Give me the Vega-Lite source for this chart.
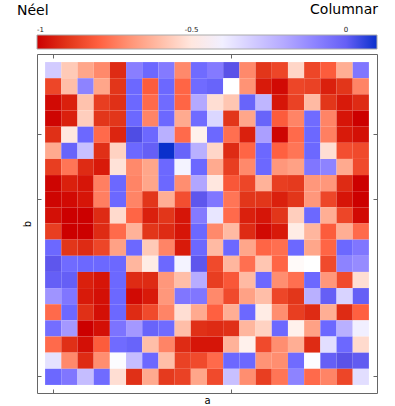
{
  "$schema": "https://vega.github.io/schema/vega-lite/v6.json",
  "width": 340,
  "height": 339,
  "autosize": {"type": "none"},
  "padding": {"left": 37, "top": 54, "right": 18, "bottom": 13},
  "config": {
    "font": "DejaVu Sans",
    "view": {"stroke": "#666", "strokeWidth": 1}
  },
  "title": {
    "text": "Néel",
    "anchor": "start",
    "frame": "group",
    "dx": -20,
    "offset": -15,
    "fontSize": 14,
    "fontWeight": "normal",
    "color": "#000"
  },
  "data": {
    "values": [
      {"a":1,"b":20,"v":-0.3},{"a":2,"b":20,"v":-0.57},{"a":3,"b":20,"v":-0.66},{"a":4,"b":20,"v":-0.72},{"a":5,"b":20,"v":-0.92},{"a":6,"b":20,"v":-0.09},{"a":7,"b":20,"v":-0.02},{"a":8,"b":20,"v":-0.08},{"a":9,"b":20,"v":-0.72},{"a":10,"b":20,"v":-0.03},{"a":11,"b":20,"v":-0.08},{"a":12,"b":20,"v":0.03},{"a":13,"b":20,"v":-0.72},{"a":14,"b":20,"v":-0.9},{"a":15,"b":20,"v":-0.86},{"a":16,"b":20,"v":-0.54},{"a":17,"b":20,"v":-0.86},{"a":18,"b":20,"v":-0.81},{"a":19,"b":20,"v":-0.64},{"a":20,"b":20,"v":-0.07},
      {"a":1,"b":19,"v":-0.86},{"a":2,"b":19,"v":-0.6},{"a":3,"b":19,"v":-0.1},{"a":4,"b":19,"v":-0.66},{"a":5,"b":19,"v":-0.9},{"a":6,"b":19,"v":-0.02},{"a":7,"b":19,"v":-0.81},{"a":8,"b":19,"v":-0.02},{"a":9,"b":19,"v":-0.79},{"a":10,"b":19,"v":-0.03},{"a":11,"b":19,"v":-0.01},{"a":12,"b":19,"v":-0.45},{"a":13,"b":19,"v":-0.7},{"a":14,"b":19,"v":-0.95},{"a":15,"b":19,"v":-0.98},{"a":16,"b":19,"v":-0.86},{"a":17,"b":19,"v":-0.87},{"a":18,"b":19,"v":-0.94},{"a":19,"b":19,"v":-0.9},{"a":20,"b":19,"v":-0.73},
      {"a":1,"b":18,"v":-0.98},{"a":2,"b":18,"v":-0.94},{"a":3,"b":18,"v":-0.59},{"a":4,"b":18,"v":-0.88},{"a":5,"b":18,"v":-0.91},{"a":6,"b":18,"v":-0.02},{"a":7,"b":18,"v":-0.78},{"a":8,"b":18,"v":-0.03},{"a":9,"b":18,"v":-0.79},{"a":10,"b":18,"v":-0.2},{"a":11,"b":18,"v":-0.52},{"a":12,"b":18,"v":-0.58},{"a":13,"b":18,"v":-0.01},{"a":14,"b":18,"v":-0.24},{"a":15,"b":18,"v":-0.96},{"a":16,"b":18,"v":-0.87},{"a":17,"b":18,"v":-0.61},{"a":18,"b":18,"v":-0.9},{"a":19,"b":18,"v":-0.95},{"a":20,"b":18,"v":-0.92},
      {"a":1,"b":17,"v":-0.99},{"a":2,"b":17,"v":-0.94},{"a":3,"b":17,"v":-0.56},{"a":4,"b":17,"v":-0.9},{"a":5,"b":17,"v":-0.9},{"a":6,"b":17,"v":-0.02},{"a":7,"b":17,"v":-0.73},{"a":8,"b":17,"v":-0.02},{"a":9,"b":17,"v":-0.65},{"a":10,"b":17,"v":-0.03},{"a":11,"b":17,"v":-0.33},{"a":12,"b":17,"v":-0.9},{"a":13,"b":17,"v":-0.66},{"a":14,"b":17,"v":-0.01},{"a":15,"b":17,"v":-0.81},{"a":16,"b":17,"v":-0.73},{"a":17,"b":17,"v":-0.03},{"a":18,"b":17,"v":-0.73},{"a":19,"b":17,"v":-0.96},{"a":20,"b":17,"v":-1.0},
      {"a":1,"b":16,"v":-0.91},{"a":2,"b":16,"v":-0.5},{"a":3,"b":16,"v":-0.02},{"a":4,"b":16,"v":-0.78},{"a":5,"b":16,"v":-0.93},{"a":6,"b":16,"v":0.04},{"a":7,"b":16,"v":-0.02},{"a":8,"b":16,"v":-0.22},{"a":9,"b":16,"v":-0.78},{"a":10,"b":16,"v":-0.48},{"a":11,"b":16,"v":-0.02},{"a":12,"b":16,"v":-0.77},{"a":13,"b":16,"v":-0.94},{"a":14,"b":16,"v":-0.17},{"a":15,"b":16,"v":-0.99},{"a":16,"b":16,"v":-0.78},{"a":17,"b":16,"v":-0.02},{"a":18,"b":16,"v":-0.74},{"a":19,"b":16,"v":-0.95},{"a":20,"b":16,"v":-0.97},
      {"a":1,"b":15,"v":-0.65},{"a":2,"b":15,"v":-0.01},{"a":3,"b":15,"v":-0.27},{"a":4,"b":15,"v":-0.91},{"a":5,"b":15,"v":-0.55},{"a":6,"b":15,"v":-0.02},{"a":7,"b":15,"v":0.0},{"a":8,"b":15,"v":0.1},{"a":9,"b":15,"v":-0.01},{"a":10,"b":15,"v":-0.22},{"a":11,"b":15,"v":-0.54},{"a":12,"b":15,"v":-0.92},{"a":13,"b":15,"v":-0.79},{"a":14,"b":15,"v":-0.02},{"a":15,"b":15,"v":-0.8},{"a":16,"b":15,"v":-0.76},{"a":17,"b":15,"v":-0.02},{"a":18,"b":15,"v":-0.52},{"a":19,"b":15,"v":-0.84},{"a":20,"b":15,"v":-0.85},
      {"a":1,"b":14,"v":-0.88},{"a":2,"b":14,"v":-0.76},{"a":3,"b":14,"v":-0.92},{"a":4,"b":14,"v":-0.95},{"a":5,"b":14,"v":-0.51},{"a":6,"b":14,"v":-0.72},{"a":7,"b":14,"v":-0.66},{"a":8,"b":14,"v":-0.02},{"a":9,"b":14,"v":-0.41},{"a":10,"b":14,"v":-0.02},{"a":11,"b":14,"v":-0.65},{"a":12,"b":14,"v":-0.88},{"a":13,"b":14,"v":-0.72},{"a":14,"b":14,"v":-0.02},{"a":15,"b":14,"v":-0.69},{"a":16,"b":14,"v":-0.67},{"a":17,"b":14,"v":-0.07},{"a":18,"b":14,"v":-0.1},{"a":19,"b":14,"v":-0.65},{"a":20,"b":14,"v":-0.85},
      {"a":1,"b":13,"v":-0.99},{"a":2,"b":13,"v":-0.94},{"a":3,"b":13,"v":-0.96},{"a":4,"b":13,"v":-0.74},{"a":5,"b":13,"v":-0.02},{"a":6,"b":13,"v":-0.73},{"a":7,"b":13,"v":-0.66},{"a":8,"b":13,"v":-0.02},{"a":9,"b":13,"v":-0.71},{"a":10,"b":13,"v":-0.19},{"a":11,"b":13,"v":-0.5},{"a":12,"b":13,"v":-0.82},{"a":13,"b":13,"v":-0.86},{"a":14,"b":13,"v":-0.63},{"a":15,"b":13,"v":-0.88},{"a":16,"b":13,"v":-0.89},{"a":17,"b":13,"v":-0.69},{"a":18,"b":13,"v":-0.69},{"a":19,"b":13,"v":-0.92},{"a":20,"b":13,"v":-1.0},
      {"a":1,"b":12,"v":-0.99},{"a":2,"b":12,"v":-0.98},{"a":3,"b":12,"v":-0.96},{"a":4,"b":12,"v":-0.74},{"a":5,"b":12,"v":-0.02},{"a":6,"b":12,"v":-0.73},{"a":7,"b":12,"v":-0.9},{"a":8,"b":12,"v":-0.64},{"a":9,"b":12,"v":-0.84},{"a":10,"b":12,"v":0.02},{"a":11,"b":12,"v":-0.07},{"a":12,"b":12,"v":-0.76},{"a":13,"b":12,"v":-0.9},{"a":14,"b":12,"v":-0.9},{"a":15,"b":12,"v":-0.94},{"a":16,"b":12,"v":-0.9},{"a":17,"b":12,"v":-0.69},{"a":18,"b":12,"v":-0.86},{"a":19,"b":12,"v":-0.96},{"a":20,"b":12,"v":-1.0},
      {"a":1,"b":11,"v":-0.97},{"a":2,"b":11,"v":-1.0},{"a":3,"b":11,"v":-1.0},{"a":4,"b":11,"v":-0.92},{"a":5,"b":11,"v":-0.53},{"a":6,"b":11,"v":-0.79},{"a":7,"b":11,"v":-0.94},{"a":8,"b":11,"v":-0.9},{"a":9,"b":11,"v":-0.96},{"a":10,"b":11,"v":-0.08},{"a":11,"b":11,"v":-0.37},{"a":12,"b":11,"v":-0.78},{"a":13,"b":11,"v":-0.94},{"a":14,"b":11,"v":-0.96},{"a":15,"b":11,"v":-0.9},{"a":16,"b":11,"v":-0.56},{"a":17,"b":11,"v":-0.02},{"a":18,"b":11,"v":-0.64},{"a":19,"b":11,"v":-0.86},{"a":20,"b":11,"v":-0.98},
      {"a":1,"b":10,"v":-0.88},{"a":2,"b":10,"v":-1.0},{"a":3,"b":10,"v":-1.0},{"a":4,"b":10,"v":-0.92},{"a":5,"b":10,"v":-0.78},{"a":6,"b":10,"v":-0.63},{"a":7,"b":10,"v":-0.9},{"a":8,"b":10,"v":-0.92},{"a":9,"b":10,"v":-0.96},{"a":10,"b":10,"v":-0.02},{"a":11,"b":10,"v":-0.72},{"a":12,"b":10,"v":-0.61},{"a":13,"b":10,"v":-0.92},{"a":14,"b":10,"v":-0.98},{"a":15,"b":10,"v":-0.95},{"a":16,"b":10,"v":-0.49},{"a":17,"b":10,"v":-0.62},{"a":18,"b":10,"v":-0.81},{"a":19,"b":10,"v":-0.64},{"a":20,"b":10,"v":-0.78},
      {"a":1,"b":9,"v":-0.02},{"a":2,"b":9,"v":-0.9},{"a":3,"b":9,"v":-0.92},{"a":4,"b":9,"v":-0.86},{"a":5,"b":9,"v":-0.67},{"a":6,"b":9,"v":-0.02},{"a":7,"b":9,"v":-0.57},{"a":8,"b":9,"v":-0.73},{"a":9,"b":9,"v":-0.95},{"a":10,"b":9,"v":-0.02},{"a":11,"b":9,"v":-0.61},{"a":12,"b":9,"v":-0.02},{"a":13,"b":9,"v":-0.66},{"a":14,"b":9,"v":-0.79},{"a":15,"b":9,"v":-0.77},{"a":16,"b":9,"v":-0.02},{"a":17,"b":9,"v":-0.66},{"a":18,"b":9,"v":-0.79},{"a":19,"b":9,"v":-0.02},{"a":20,"b":9,"v":-0.07},
      {"a":1,"b":8,"v":0.02},{"a":2,"b":8,"v":-0.03},{"a":3,"b":8,"v":-0.02},{"a":4,"b":8,"v":-0.02},{"a":5,"b":8,"v":-0.02},{"a":6,"b":8,"v":-0.62},{"a":7,"b":8,"v":-0.49},{"a":8,"b":8,"v":-0.02},{"a":9,"b":8,"v":-0.41},{"a":10,"b":8,"v":0.02},{"a":11,"b":8,"v":-0.85},{"a":12,"b":8,"v":-0.62},{"a":13,"b":8,"v":-0.77},{"a":14,"b":8,"v":-0.58},{"a":15,"b":8,"v":-0.79},{"a":16,"b":8,"v":-0.46},{"a":17,"b":8,"v":-0.45},{"a":18,"b":8,"v":-0.85},{"a":19,"b":8,"v":-0.1},{"a":20,"b":8,"v":-0.12},
      {"a":1,"b":7,"v":0.0},{"a":2,"b":7,"v":0.0},{"a":3,"b":7,"v":-0.94},{"a":4,"b":7,"v":-0.96},{"a":5,"b":7,"v":-0.02},{"a":6,"b":7,"v":-0.92},{"a":7,"b":7,"v":-0.92},{"a":8,"b":7,"v":-0.69},{"a":9,"b":7,"v":-0.6},{"a":10,"b":7,"v":-0.21},{"a":11,"b":7,"v":-0.88},{"a":12,"b":7,"v":-0.82},{"a":13,"b":7,"v":-0.61},{"a":14,"b":7,"v":-0.02},{"a":15,"b":7,"v":-0.71},{"a":16,"b":7,"v":-0.77},{"a":17,"b":7,"v":-0.02},{"a":18,"b":7,"v":-0.69},{"a":19,"b":7,"v":-0.85},{"a":20,"b":7,"v":-0.52},
      {"a":1,"b":6,"v":-0.14},{"a":2,"b":6,"v":-0.07},{"a":3,"b":6,"v":-0.95},{"a":4,"b":6,"v":-0.97},{"a":5,"b":6,"v":-0.02},{"a":6,"b":6,"v":-0.98},{"a":7,"b":6,"v":-0.95},{"a":8,"b":6,"v":-0.69},{"a":9,"b":6,"v":-0.07},{"a":10,"b":6,"v":-0.07},{"a":11,"b":6,"v":-0.72},{"a":12,"b":6,"v":-0.85},{"a":13,"b":6,"v":-0.67},{"a":14,"b":6,"v":-0.6},{"a":15,"b":6,"v":-0.86},{"a":16,"b":6,"v":-0.9},{"a":17,"b":6,"v":-0.22},{"a":18,"b":6,"v":0.0},{"a":19,"b":6,"v":-0.32},{"a":20,"b":6,"v":0.0},
      {"a":1,"b":5,"v":-0.78},{"a":2,"b":5,"v":-0.02},{"a":3,"b":5,"v":-0.91},{"a":4,"b":5,"v":-0.97},{"a":5,"b":5,"v":-0.02},{"a":6,"b":5,"v":-0.92},{"a":7,"b":5,"v":-0.85},{"a":8,"b":5,"v":-0.73},{"a":9,"b":5,"v":-0.52},{"a":10,"b":5,"v":-0.65},{"a":11,"b":5,"v":-0.8},{"a":12,"b":5,"v":-0.64},{"a":13,"b":5,"v":-0.02},{"a":14,"b":5,"v":-0.49},{"a":15,"b":5,"v":-0.71},{"a":16,"b":5,"v":-0.88},{"a":17,"b":5,"v":-0.92},{"a":18,"b":5,"v":-0.64},{"a":19,"b":5,"v":-0.92},{"a":20,"b":5,"v":-0.8},
      {"a":1,"b":4,"v":-0.04},{"a":2,"b":4,"v":-0.15},{"a":3,"b":4,"v":-1.0},{"a":4,"b":4,"v":-0.97},{"a":5,"b":4,"v":-0.06},{"a":6,"b":4,"v":-0.15},{"a":7,"b":4,"v":-0.01},{"a":8,"b":4,"v":-0.03},{"a":9,"b":4,"v":-0.6},{"a":10,"b":4,"v":-0.91},{"a":11,"b":4,"v":-0.92},{"a":12,"b":4,"v":-0.91},{"a":13,"b":4,"v":-0.62},{"a":14,"b":4,"v":-0.55},{"a":15,"b":4,"v":-0.02},{"a":16,"b":4,"v":-0.48},{"a":17,"b":4,"v":-0.67},{"a":18,"b":4,"v":-0.02},{"a":19,"b":4,"v":-0.22},{"a":20,"b":4,"v":-0.4},
      {"a":1,"b":3,"v":-0.78},{"a":2,"b":3,"v":-0.91},{"a":3,"b":3,"v":-0.97},{"a":4,"b":3,"v":-0.81},{"a":5,"b":3,"v":-0.03},{"a":6,"b":3,"v":-0.01},{"a":7,"b":3,"v":-0.6},{"a":8,"b":3,"v":-0.73},{"a":9,"b":3,"v":-0.92},{"a":10,"b":3,"v":-0.96},{"a":11,"b":3,"v":-0.96},{"a":12,"b":3,"v":-0.63},{"a":13,"b":3,"v":-0.48},{"a":14,"b":3,"v":-0.85},{"a":15,"b":3,"v":-0.71},{"a":16,"b":3,"v":-0.64},{"a":17,"b":3,"v":-0.92},{"a":18,"b":3,"v":-0.35},{"a":19,"b":3,"v":-0.02},{"a":20,"b":3,"v":-0.53},
      {"a":1,"b":2,"v":-0.36},{"a":2,"b":2,"v":-0.72},{"a":3,"b":2,"v":-0.92},{"a":4,"b":2,"v":-0.71},{"a":5,"b":2,"v":-0.44},{"a":6,"b":2,"v":-0.26},{"a":7,"b":2,"v":-0.02},{"a":8,"b":2,"v":-0.6},{"a":9,"b":2,"v":-0.87},{"a":10,"b":2,"v":-0.85},{"a":11,"b":2,"v":-0.78},{"a":12,"b":2,"v":-0.02},{"a":13,"b":2,"v":-0.02},{"a":14,"b":2,"v":-0.7},{"a":15,"b":2,"v":-0.71},{"a":16,"b":2,"v":-0.03},{"a":17,"b":2,"v":-0.44},{"a":18,"b":2,"v":0.0},{"a":19,"b":2,"v":0.03},{"a":20,"b":2,"v":0.01},
      {"a":1,"b":1,"v":-0.02},{"a":2,"b":1,"v":-0.07},{"a":3,"b":1,"v":-0.26},{"a":4,"b":1,"v":-0.03},{"a":5,"b":1,"v":-0.52},{"a":6,"b":1,"v":-0.91},{"a":7,"b":1,"v":-0.65},{"a":8,"b":1,"v":-0.89},{"a":9,"b":1,"v":-0.87},{"a":10,"b":1,"v":-0.66},{"a":11,"b":1,"v":-0.85},{"a":12,"b":1,"v":-0.27},{"a":13,"b":1,"v":-0.71},{"a":14,"b":1,"v":-0.88},{"a":15,"b":1,"v":-0.76},{"a":16,"b":1,"v":-0.1},{"a":17,"b":1,"v":-0.78},{"a":18,"b":1,"v":-0.73},{"a":19,"b":1,"v":-0.86},{"a":20,"b":1,"v":-0.35}
    ]
  },
  "layer": [
    {
      "mark": {"type": "rect", "strokeWidth": 0},
      "encoding": {
        "x": {
          "field": "a", "type": "ordinal",
          "scale": {"paddingInner": 0, "paddingOuter": 0.5},
          "axis": {
            "orient": "bottom", "labels": false, "domain": false,
            "values": [1, 12], "tickSize": -4, "tickColor": "#666",
            "title": "a", "titleFontSize": 10, "titleFontWeight": "normal",
            "titlePadding": 2, "titleColor": "#000"
          }
        },
        "y": {
          "field": "b", "type": "ordinal", "sort": "descending",
          "scale": {"paddingInner": 0, "paddingOuter": 0.5},
          "axis": {
            "orient": "left", "labels": false, "domain": false,
            "values": [1, 12, 16], "tickSize": -4, "tickColor": "#666",
            "title": "b", "titleFontSize": 10, "titleFontWeight": "normal",
            "titlePadding": 4, "titleColor": "#000"
          }
        },
        "color": {
          "field": "v", "type": "quantitative",
          "scale": {
            "domain": [-1, -0.95, -0.9, -0.85, -0.8, -0.73, -0.66, -0.58, -0.51, -0.45, -0.37, -0.27, -0.16, -0.07, -0.02, 0.03, 0.1],
            "range": ["#cc0000", "#d81a0a", "#e2361a", "#f04a2c", "#ff6040", "#ff8466", "#ffa68a", "#ffc6b2", "#ffe2d8", "#ffffff", "#e8e6ff", "#c8c0ff", "#a89cff", "#8076ff", "#6c68ff", "#5a52e8", "#0a30cc"],
            "interpolate": "rgb"
          },
          "legend": {
            "orient": "none", "legendX": 0, "legendY": -51,
            "direction": "horizontal",
            "gradientLength": 340, "gradientThickness": 14,
            "gradientStrokeColor": "#aaa", "gradientStrokeWidth": 1,
            "values": [-1, -0.5, 0],
            "labelExpr": "replace(format(datum.value, '~g'), '\u2212', '-')",
            "labelOffset": -23, "labelFontSize": 7, "labelAlign": "center", "labelColor": "#222",
            "title": "Columnar", "titleAnchor": "end", "titleFontSize": 14,
            "titleFontWeight": "normal", "titleColor": "#000", "titlePadding": 18
          }
        }
      }
    },
    {
      "mark": {"type": "rect", "opacity": 0},
      "encoding": {
        "x": {
          "field": "a", "type": "ordinal",
          "axis": {"orient": "top", "labels": false, "domain": false, "values": [1, 12], "tickSize": -4, "tickColor": "#666", "title": null}
        },
        "y": {
          "field": "b", "type": "ordinal", "sort": "descending",
          "axis": {"orient": "right", "labels": false, "domain": false, "values": [1, 12, 16], "tickSize": -4, "tickColor": "#666", "title": null}
        }
      }
    }
  ],
  "resolve": {"axis": {"x": "independent", "y": "independent"}}
}
